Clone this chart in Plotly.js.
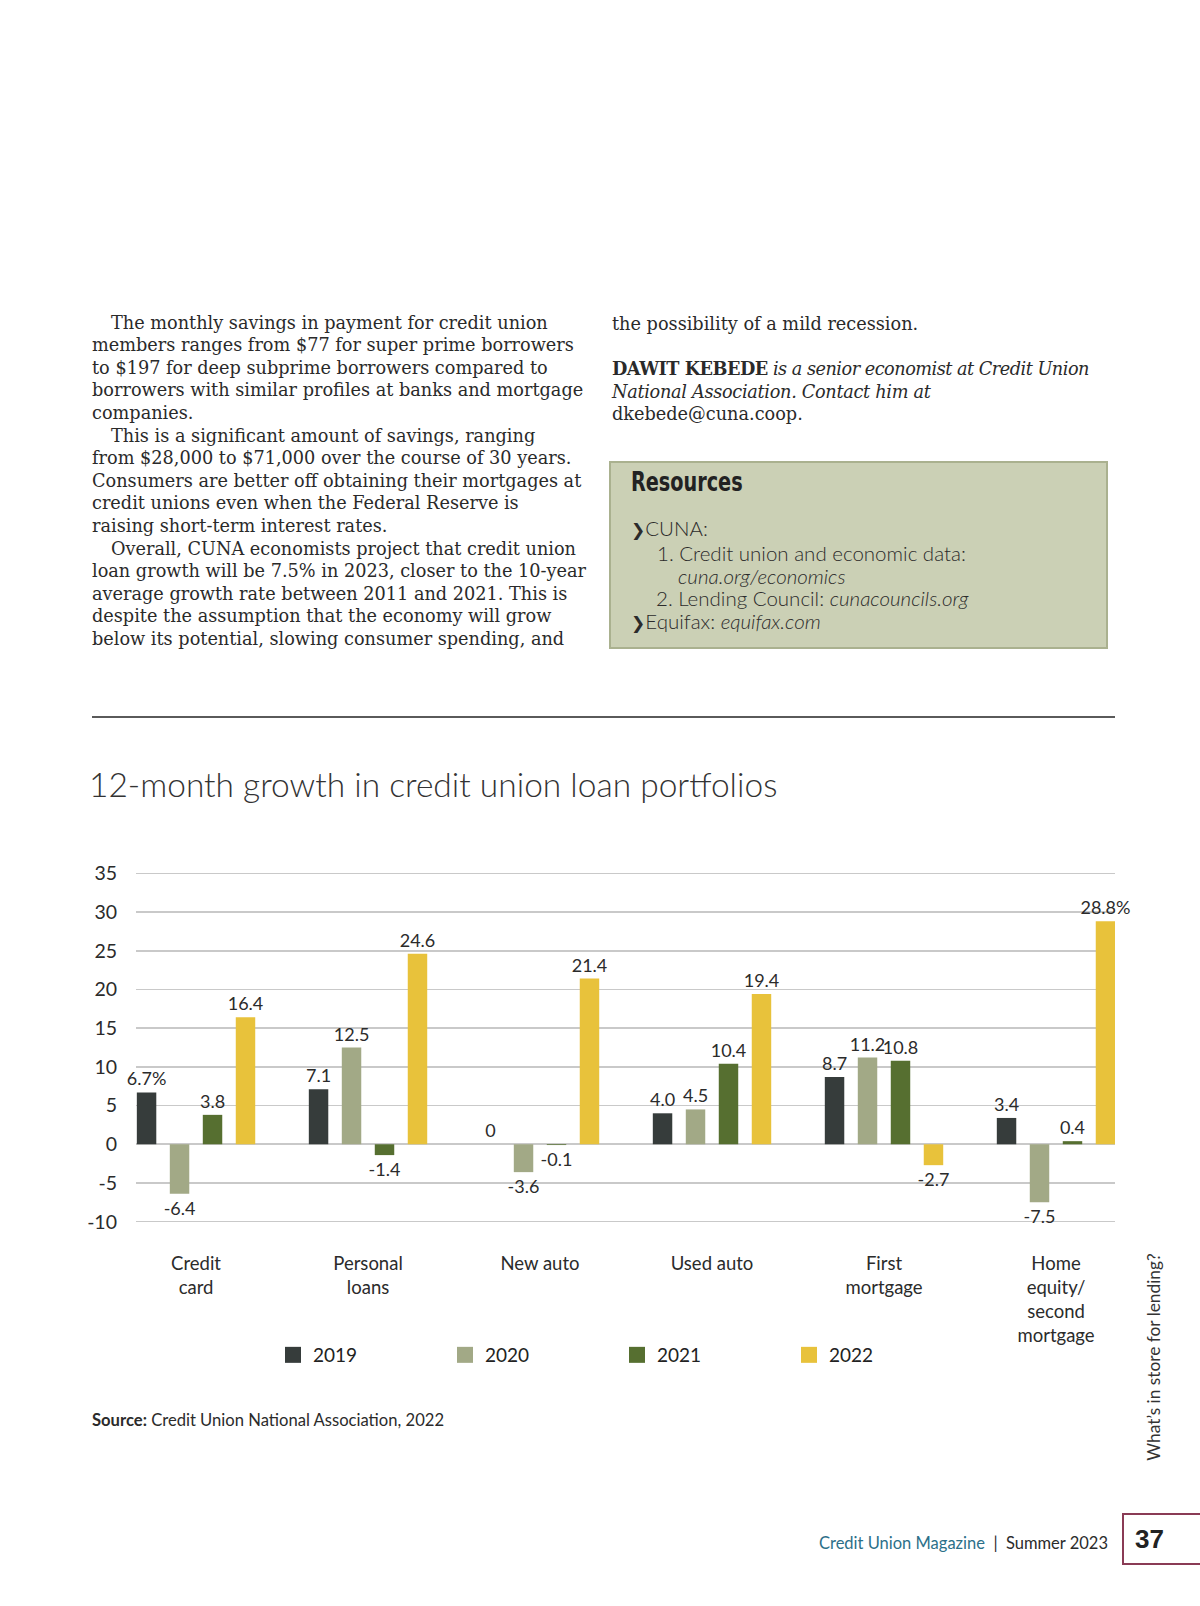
<!DOCTYPE html>
<html><head><meta charset="utf-8">
<script src="https://cdn.plot.ly/plotly-3.0.1.min.js"></script>
<style>
html,body{margin:0;padding:0;background:#fff;}
body{width:1200px;height:1606px;position:relative;overflow:hidden;}
.serif{position:absolute;font-family:"DejaVu Serif","Liberation Serif",serif;font-size:17.7px;color:#2a2a2a;line-height:22.6px;white-space:nowrap;}
.ind{padding-left:19px;}
#rule{position:absolute;left:92px;top:716px;width:1023px;height:2px;background:#5a5a5a;}
#res{position:absolute;left:609px;top:461px;width:495px;height:184px;background:#cbd0b5;border:2px solid #aab18f;}
#resTitle{position:absolute;left:20px;top:3px;font-family:"DejaVu Sans",sans-serif;font-weight:bold;font-size:26px;color:#222;line-height:32px;transform:scaleX(0.74);transform-origin:0 50%;white-space:nowrap;}
#resList{position:absolute;left:20px;top:54px;font-family:Lato,"Open Sans",sans-serif;font-weight:300;font-size:20.5px;color:#2b2b2b;line-height:22.8px;white-space:nowrap;}
.chev{font-weight:900;font-family:"DejaVu Sans",sans-serif;font-size:17px;}
#chart{position:absolute;left:0;top:730px;width:1200px;height:740px;}
#source{position:absolute;left:92px;top:1410px;font-family:Lato,sans-serif;font-size:16.6px;color:#2b2b2b;line-height:20px;white-space:nowrap;}
#vert{position:absolute;left:1153px;top:1357px;transform:translate(-50%,-50%) rotate(-90deg);font-family:Lato,sans-serif;font-size:17.3px;color:#333;white-space:nowrap;}
#footer{position:absolute;right:92px;top:1532px;font-family:Lato,sans-serif;font-size:16.5px;line-height:22px;color:#2b2b2b;white-space:nowrap;}
#footer .mag{color:#2c7089;}
#pagebox{position:absolute;left:1122px;top:1513px;width:90px;height:48px;border:2.5px solid #8a3b55;}
#pagenum{position:absolute;left:11px;top:9px;font-family:"Liberation Sans",Arial,sans-serif;font-weight:bold;font-size:26px;color:#222;line-height:30px;}
</style>
</head><body>

<div class="serif" style="left:92px;top:311.7px;">
<div class="ind">The monthly savings in payment for credit union</div>
<div>members ranges from $77 for super prime borrowers</div>
<div>to $197 for deep subprime borrowers compared to</div>
<div>borrowers with similar profiles at banks and mortgage</div>
<div>companies.</div>
<div class="ind">This is a significant amount of savings, ranging</div>
<div>from $28,000 to $71,000 over the course of 30 years.</div>
<div>Consumers are better off obtaining their mortgages at</div>
<div>credit unions even when the Federal Reserve is</div>
<div>raising short-term interest rates.</div>
<div class="ind">Overall, CUNA economists project that credit union</div>
<div>loan growth will be 7.5% in 2023, closer to the 10-year</div>
<div>average growth rate between 2011 and 2021. This is</div>
<div>despite the assumption that the economy will grow</div>
<div>below its potential, slowing consumer spending, and</div>
</div>

<div class="serif" style="left:612px;top:313px;">
<div>the possibility of a mild recession.</div>
<div>&nbsp;</div>
<div style="letter-spacing:-0.5px;"><b>DAWIT KEBEDE</b> <i>is a senior economist at Credit Union</i></div>
<div style="letter-spacing:-0.3px;"><i>National Association. Contact him at</i></div>
<div>dkebede@cuna.coop.</div>
</div>

<div id="res">
<div id="resTitle">Resources</div>
<div id="resList">
<div><span class="chev">&#x276F;</span>CUNA:</div>
<div style="padding-left:26px;">1. Credit union and economic data:</div>
<div style="padding-left:47px;"><i>cuna.org/economics</i></div>
<div style="padding-left:25px;">2. Lending Council: <i>cunacouncils.org</i></div>
<div><span class="chev">&#x276F;</span>Equifax: <i>equifax.com</i></div>
</div>
</div>

<div id="rule"></div>

<div id="chart"></div>

<div id="source"><b>Source:</b> Credit Union National Association, 2022</div>

<div id="vert">What’s in store for lending?</div>

<div id="footer"><span class="mag">Credit Union Magazine</span> &nbsp;|&nbsp; Summer 2023</div>
<div id="pagebox"><div id="pagenum">37</div></div>

<script>
// ---- data ----
var categories = ["Credit card", "Personal loans", "New auto", "Used auto", "First mortgage", "Home equity/second mortgage"];
var tickLabels = ["Credit<br>card", "Personal<br>loans", "New auto", "Used auto", "First<br>mortgage", "Home<br>equity/<br>second<br>mortgage"];
var years = ["2019", "2020", "2021", "2022"];
var v2019 = [6.7, 7.1, 0, 4.0, 8.7, 3.4];
var v2020 = [-6.4, 12.5, -3.6, 4.5, 11.2, -7.5];
var v2021 = [3.8, -1.4, -0.1, 10.4, 10.8, 0.4];
var v2022 = [16.4, 24.6, 21.4, 19.4, -2.7, 28.8];
var pctSuffix2019 = [true, false, false, false, false, false];
var pctSuffix2022 = [false, false, false, false, false, true];
var yTicks = [-10, -5, 0, 5, 10, 15, 20, 25, 30, 35];

var colors = ["#363c3b", "#a2a986", "#566f30", "#e8c23b"];
var series = [v2019, v2020, v2021, v2022];
var suffixes = [pctSuffix2019, null, null, pctSuffix2022];

function labelFor(v, pct) {
  var s = (v === 0) ? "0" : v.toFixed(1);
  return pct ? s + "%" : s;
}

var traces = [];
series.forEach(function (vals, i) {
  traces.push({
    type: "bar",
    name: years[i],
    x: categories,
    y: vals,
    marker: {color: colors[i], line: {width: 0}},
    text: vals.map(function (v, j) { return labelFor(v, suffixes[i] ? suffixes[i][j] : false); }),
    textposition: "outside",
    textangle: 0,
    outsidetextfont: {family: "Lato, sans-serif", size: 18, color: "#2b2b2b"},
    cliponaxis: false,
    constraintext: "none",
    showlegend: false,
    hoverinfo: "skip"
  });
});
// legend entries
years.forEach(function (yr, i) {
  traces.push({
    type: "scatter", mode: "markers", name: yr,
    x: [null], y: [null],
    marker: {symbol: "square", size: 16, color: colors[i]},
    showlegend: true, hoverinfo: "skip"
  });
});

var layout = {
  width: 1200, height: 740,
  paper_bgcolor: "rgba(0,0,0,0)", plot_bgcolor: "rgba(0,0,0,0)",
  margin: {l: 136, r: 85, t: 141.2, b: 246.1, pad: 0},
  barmode: "group", bargap: 0.233, bargroupgap: 0.41,
  title: {
    text: "12-month growth in credit union loan portfolios",
    font: {family: "Lato, sans-serif", size: 33.5, color: "#333", weight: 300},
    xref: "container", x: 89 / 1200, xanchor: "left",
    yref: "container", y: 1 - (785 - 730) / 740, yanchor: "middle"
  },
  xaxis: {
    type: "category", range: [-0.349, 5.343],
    tickvals: categories, ticktext: tickLabels,
    showgrid: false, zeroline: false, showline: false, ticks: "",
    tickfont: {family: "Lato, sans-serif", size: 18.5, color: "#2b2b2b"},
    ticklabelstandoff: 26
  },
  yaxis: {
    range: [-10.3, 35.3], tickvals: yTicks, ticktext: yTicks.map(String),
    showgrid: true, gridcolor: "#c9c9c9", gridwidth: 1.6,
    zeroline: false, showline: false, ticks: "",
    tickfont: {family: "Lato, sans-serif", size: 19.5, color: "#2b2b2b"},
    ticklabelstandoff: 18
  },
  legend: {
    orientation: "h", xref: "container", yref: "container",
    x: 0.2275, xanchor: "left", y: 1 - (1355 - 730) / 740, yanchor: "middle",
    font: {family: "Lato, sans-serif", size: 19, color: "#222"},
    entrywidth: 127, entrywidthmode: "pixels", bgcolor: "rgba(0,0,0,0)"
  },
  showlegend: true, hovermode: false
};

Plotly.newPlot("chart", traces, layout, {displayModeBar: false, staticPlot: true});
</script>
</body></html>
